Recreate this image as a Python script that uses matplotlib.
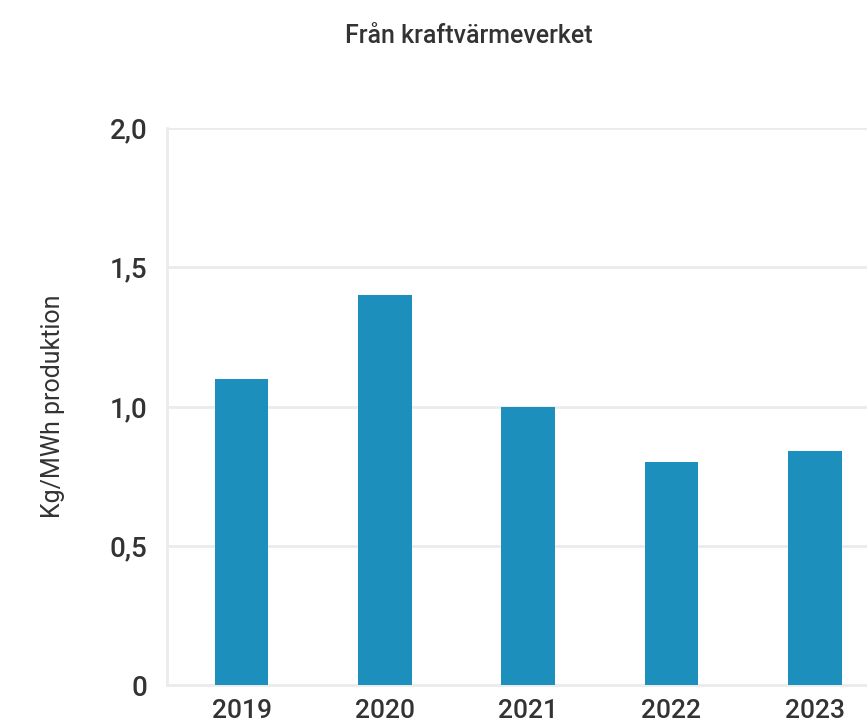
import matplotlib
matplotlib.use("Agg")
import matplotlib.pyplot as plt
from matplotlib.ticker import FixedLocator

# Data
years = ["2019", "2020", "2021", "2022", "2023"]
values = [1.10, 1.40, 1.00, 0.80, 0.84]
y_ticks = [0, 0.5, 1.0, 1.5, 2.0]
y_tick_labels = ["0", "0,5", "1,0", "1,5", "2,0"]

bar_color = "#1d8fbd"
grid_color = "#ebebeb"
text_color = "#333333"

plt.rcParams['font.family'] = ['Roboto', 'DejaVu Sans']
plt.rcParams['font.weight'] = 'medium'

fig = plt.figure(figsize=(8.67, 7.27), dpi=100)
# axes runs past the right edge, like the cropped reference
ax = fig.add_axes([167 / 867, 42 / 727, 1.1 - 167 / 867, 557 / 727])

x = list(range(len(years)))
ax.bar(x, values, width=0.375, color=bar_color, zorder=3)

ax.set_xlim(-0.52, 4.97)
ax.set_ylim(0, 2.0)
ax.yaxis.set_major_locator(FixedLocator(y_ticks))
ax.set_yticklabels(y_tick_labels)
ax.set_xticks(x)
ax.set_xticklabels(years)

ax.grid(axis="y", color=grid_color, linewidth=2, zorder=0)
for side in ["top", "right"]:
    ax.spines[side].set_visible(False)
ax.spines["left"].set_color(grid_color)
ax.spines["left"].set_linewidth(2)
ax.spines["bottom"].set_color(grid_color)
ax.spines["bottom"].set_linewidth(2)

ax.tick_params(axis="both", length=0, labelsize=19, labelcolor=text_color)
ax.tick_params(axis="y", labelsize=20, pad=14)
ax.tick_params(axis="x", pad=10)

ax.set_ylabel("Kg/MWh produktion", fontsize=18, color=text_color, labelpad=32)
fig.text(469 / 867, 1 - 36 / 727, "Från kraftvärmeverket", ha="center", va="center",
         fontsize=18, color=text_color)

fig.savefig("out.png", dpi=100)
